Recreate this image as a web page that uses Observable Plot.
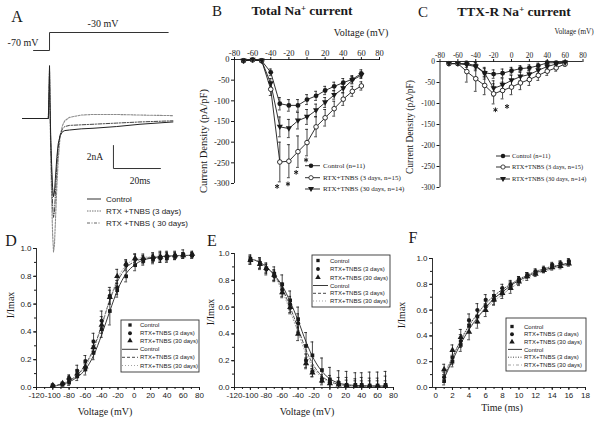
<!DOCTYPE html>
<html><head><meta charset="utf-8">
<script src="https://cdn.jsdelivr.net/npm/d3@7"></script>
<script src="https://cdn.jsdelivr.net/npm/@observablehq/plot@0.6"></script>
<style>
body{margin:0;background:#fff;}
#fig{position:relative;width:601px;height:426px;overflow:hidden;background:#fff;color:#1a1a1a;}
.lbl{position:absolute;white-space:nowrap;line-height:1;font-family:"Liberation Serif",serif;}
sup{font-size:65%;vertical-align:0.45em;line-height:0;}
</style></head><body><div id="fig"></div>
<script>
// ---------------- Panel A: current traces ----------------
const traceTime    = [0,11.0,11.3,11.5,11.7,12.0,12.4,12.8,13.2,13.6,14.0,14.6,15.2,16.0,17.0,18.0,20,25,30,40,50,64];
const traceControl = [0,0,2.5,4.6,1.5,-1.5,-4.0,-6.0,-6.8,-6.4,-5.2,-3.4,-2.2,-1.5,-1.15,-1.05,-1.0,-0.9,-0.85,-0.7,-0.5,-0.3];
const trace3d      = [0,0,2.0,4.2,1.0,-3.0,-7.0,-10.0,-11.6,-11.0,-9.0,-6.0,-3.6,-1.6,-0.6,-0.2,0.1,0.3,0.35,0.35,0.3,0.25];
const trace30d     = [0,0,2.2,4.4,1.2,-2.0,-5.0,-7.5,-8.6,-8.1,-6.6,-4.2,-2.5,-1.4,-0.9,-0.7,-0.6,-0.55,-0.5,-0.4,-0.3,-0.2];
const protocolTime    = [4.7,11.5,11.5,62];
const protocolVoltage = [-70,-70,-30,-30];
const scaleBarTime = 20, scaleBarCurrent = 2, scaleBarT0 = 38.7, scaleBarI0 = -4.35;

// ---------------- Panel B / C: I-V ----------------
const ivVoltage = [-70,-60,-50,-40,-30,-20,-10,0,10,20,30,40,50,60];
const totalControl    = [-3,-1,-3,-31,-107,-111,-111,-97,-88,-75,-65,-56,-48,-34];
const totalControlErr = [3,3,3,8,15,14,14,12,11,10,10,10,9,9];
const total3d         = [-3,-1,-3,-72,-248,-246,-223,-201,-163,-141,-119,-96,-77,-64];
const total3dErr      = [3,3,3,15,48,40,38,32,24,20,18,15,12,10];
const total30d        = [-3,-1,-3,-58,-163,-167,-148,-139,-123,-104,-86,-70,-50,-38];
const total30dErr     = [3,3,3,12,24,22,20,18,15,12,10,10,9,8];
const totalStarV = [-33,-21,-12,-1];
const totalStarY = [-307,-301,-273,-243];

const ttxControl    = [-5,-5,-5,-10,-27,-30,-28,-22,-17,-15,-10,-3,-3,-2];
const ttxControlErr = [3,3,3,8,10,10,10,8,7,7,6,4,3,2];
const ttx3d         = [-5,-5,-24,-41,-57,-77,-69,-61,-51,-43,-33,-23,-15,-6];
const ttx3dErr      = [4,4,25,30,22,24,20,18,16,14,12,10,8,5];
const ttx30d        = [-5,-5,-8,-12,-28,-64,-56,-45,-36,-31,-21,-12,-6,-3];
const ttx30dErr     = [3,3,6,10,14,18,15,12,10,9,8,6,4,3];
const ttxStarV = [-18,-5];
const ttxStarY = [-115,-107];

// ---------------- Panel D: activation ----------------
const actVoltage = [-100,-88,-80,-70,-60,-50,-40,-30,-21,-10,1,11,23,32,40,50,60,71];
const actControl = [0.01,0.02,0.035,0.08,0.13,0.25,0.42,0.55,0.70,0.80,0.88,0.91,0.92,0.93,0.93,0.94,0.95,0.95];
const actControlErr = [0.01,0.01,0.02,0.03,0.04,0.05,0.06,0.1,0.05,0.04,0.04,0.03,0.03,0.03,0.03,0.02,0.02,0.02];
const act3d = [0.015,0.025,0.06,0.12,0.19,0.33,0.48,0.66,0.72,0.88,0.92,0.92,0.93,0.94,0.94,0.95,0.96,0.95];
const act3dErr = [0.01,0.01,0.02,0.04,0.04,0.06,0.07,0.06,0.05,0.03,0.04,0.03,0.03,0.04,0.03,0.03,0.03,0.02];
const act30d = [0.015,0.03,0.07,0.10,0.15,0.29,0.45,0.65,0.80,0.89,0.93,0.93,0.94,0.94,0.95,0.95,0.95,0.96];
const act30dErr = [0.01,0.01,0.02,0.03,0.03,0.05,0.06,0.05,0.05,0.03,0.03,0.03,0.03,0.03,0.03,0.02,0.02,0.02];
const fitVoltage = [-100,-90,-80,-70,-60,-50,-40,-30,-20,-10,0,10,20,30,40,50,60,70];
const actFitControl = [0.01,0.02,0.04,0.075,0.13,0.23,0.38,0.55,0.71,0.82,0.88,0.915,0.93,0.94,0.945,0.948,0.95,0.95];
const actFit3d      = [0.012,0.025,0.05,0.09,0.165,0.28,0.45,0.63,0.77,0.86,0.905,0.925,0.935,0.94,0.945,0.948,0.95,0.95];
const actFit30d     = [0.01,0.02,0.045,0.085,0.15,0.27,0.44,0.63,0.79,0.88,0.92,0.935,0.94,0.945,0.948,0.95,0.95,0.95];

// ---------------- Panel E: inactivation ----------------
const inactVoltage = [-100,-88,-80,-70,-60,-50,-40,-30,-22,-10,0,11,21,32,40,50,60,70];
const inactControl = [0.96,0.93,0.89,0.85,0.77,0.65,0.51,0.31,0.24,0.13,0.06,0.035,0.02,0.02,0.02,0.015,0.015,0.02];
const inactControlErr = [0.03,0.04,0.04,0.05,0.07,0.07,0.09,0.1,0.1,0.09,0.09,0.09,0.1,0.09,0.09,0.1,0.1,0.1];
const inact3d = [0.95,0.92,0.88,0.83,0.73,0.62,0.48,0.20,0.12,0.065,0.04,0.025,0.015,0.015,0.015,0.01,0.01,0.015];
const inact3dErr = [0.03,0.04,0.04,0.04,0.05,0.06,0.07,0.05,0.04,0.03,0.05,0.05,0.06,0.05,0.06,0.06,0.06,0.07];
const inact30d = [0.95,0.92,0.89,0.84,0.71,0.60,0.40,0.18,0.11,0.05,0.03,0.02,0.015,0.01,0.01,0.01,0.01,0.01];
const inact30dErr = [0.03,0.03,0.03,0.04,0.04,0.05,0.05,0.04,0.03,0.03,0.03,0.03,0.04,0.04,0.04,0.04,0.04,0.04];
const inactFitControl = [0.96,0.94,0.9,0.84,0.76,0.64,0.5,0.34,0.21,0.12,0.065,0.035,0.022,0.016,0.013,0.012,0.011,0.01];
const inactFit3d      = [0.96,0.94,0.9,0.84,0.74,0.6,0.44,0.28,0.16,0.085,0.045,0.025,0.016,0.012,0.01,0.01,0.01,0.01];
const inactFit30d     = [0.96,0.94,0.9,0.83,0.72,0.57,0.41,0.25,0.14,0.075,0.04,0.022,0.014,0.011,0.01,0.01,0.01,0.01];

// ---------------- Panel F: recovery ----------------
const recTime = [1,2,3,4,5,6,7,8,9,10,11,12,13,14,15,16];
const recControl = [0.05,0.20,0.33,0.48,0.55,0.63,0.68,0.74,0.79,0.83,0.87,0.89,0.91,0.94,0.96,0.97];
const recControlErr = [0.03,0.04,0.05,0.05,0.05,0.04,0.04,0.03,0.03,0.03,0.02,0.02,0.02,0.02,0.02,0.02];
const rec3d = [0.08,0.23,0.36,0.52,0.60,0.68,0.71,0.77,0.80,0.84,0.87,0.90,0.92,0.95,0.96,0.98];
const rec3dErr = [0.04,0.05,0.05,0.05,0.05,0.04,0.04,0.03,0.03,0.02,0.02,0.02,0.02,0.02,0.02,0.02];
const rec30d = [0.14,0.29,0.39,0.43,0.51,0.60,0.68,0.73,0.77,0.82,0.86,0.88,0.91,0.93,0.94,0.96];
const rec30dErr = [0.04,0.04,0.06,0.06,0.05,0.05,0.04,0.04,0.04,0.03,0.03,0.02,0.02,0.02,0.02,0.02];
const recFitTime = [1,2,3,4,5,6,7,8,9,10,11,12,13,14,15,16];
const recFitControl = [0.07,0.21,0.34,0.45,0.54,0.62,0.69,0.74,0.79,0.83,0.86,0.89,0.91,0.93,0.95,0.96];
const recFit3d      = [0.08,0.23,0.37,0.48,0.57,0.65,0.71,0.76,0.80,0.84,0.87,0.90,0.92,0.94,0.95,0.97];
const recFit30d     = [0.10,0.24,0.36,0.46,0.54,0.61,0.67,0.72,0.77,0.81,0.85,0.88,0.90,0.92,0.94,0.95];

// ================= drawing =================
const W = 601, H = 426;
const SERIF = "'Liberation Serif', 'Times New Roman', serif";
const SANS = "'Liberation Sans', Arial, sans-serif";
const INK = "#1a1a1a";
const fig = document.getElementById("fig");

function frame(m, font, fs) {
  return {width: W, height: H, marginLeft: m[0], marginRight: W - m[1], marginTop: m[2], marginBottom: H - m[3],
    style: {position: "absolute", left: "0px", top: "0px", background: "transparent", overflow: "visible",
            fontFamily: font, fontSize: fs + "px", color: INK}};
}
function rows(xs, ys, es, s) { return xs.map((x, i) => ({x, y: ys[i], e: es ? es[i] : 0, s})); }
const triDown = {draw(ctx, size) { const h = Math.sqrt(size * 1.25); ctx.moveTo(-h * 0.6, -h * 0.42); ctx.lineTo(h * 0.6, -h * 0.42); ctx.lineTo(0, h * 0.62); ctx.closePath(); }};

function errMarks(data, cap, clampLow) {
  const lo = d => clampLow ? Math.max(0, d.y - d.e) : d.y - d.e;
  return [
    Plot.ruleX(data, {x: "x", y1: lo, y2: d => d.y + d.e, stroke: INK, strokeWidth: 0.8}),
    Plot.ruleY(data, {y: d => d.y + d.e, x1: d => d.x - cap, x2: d => d.x + cap, stroke: INK, strokeWidth: 0.8}),
    Plot.ruleY(data.filter(d => !clampLow || d.y - d.e > 0), {y: lo, x1: d => d.x - cap, x2: d => d.x + cap, stroke: INK, strokeWidth: 0.8})
  ];
}

function addLegend(svg, items, o) {
  const g = d3.select(svg).append("g").attr("font-family", o.font).attr("font-size", o.fs).attr("fill", INK)
    .attr("text-anchor", "start").style("font-family", o.font).style("font-size", o.fs + "px");
  if (o.box) g.append("rect").attr("x", o.box[0]).attr("y", o.box[1]).attr("width", o.box[2] - o.box[0])
      .attr("height", o.box[3] - o.box[1]).attr("fill", "white").attr("stroke", "#333").attr("stroke-width", 0.9);
  for (const it of items) {
    if (it.line) g.append("line").attr("x1", o.lx1).attr("x2", o.lx2).attr("y1", it.y).attr("y2", it.y)
      .attr("stroke", it.color || INK).attr("stroke-width", it.sw || 0.9).attr("stroke-dasharray", it.dash || null);
    if (it.sym) g.append("path").attr("d", d3.symbol(it.sym, it.size || 16)()).attr("transform", `translate(${o.mx},${it.y})`)
      .attr("fill", it.fill || INK).attr("stroke", it.stroke || "none").attr("stroke-width", 0.8);
    g.append("text").attr("x", o.tx).attr("y", it.y).attr("dy", "0.35em").text(it.label);
  }
}
function label(html, x, y, css = {}, rot = false) {
  const d = document.createElement("div");
  d.className = "lbl"; d.innerHTML = html;
  Object.assign(d.style, {left: x + "px", top: y + "px", transform: `translate(-50%,-50%)${rot ? " rotate(-90deg)" : ""}`}, css);
  fig.appendChild(d);
}

// ---------- Panel A ----------
const traceRows = [...rows(traceTime, traceControl, null, "c"), ...rows(traceTime, trace3d, null, "3"), ...rows(traceTime, trace30d, null, "30")];
const svgA = Plot.plot({...frame([22, 172.4, 60.5, 256], SERIF, 9), x: {domain: [0, 64], axis: null}, y: {domain: [-12, 5], axis: null},
  marks: [
    Plot.line(traceRows.filter(d => d.s === "3"), {x: "x", y: "y", stroke: "#8c8c8c", strokeWidth: 1.1, strokeDasharray: "2,1.3"}),
    Plot.line(traceRows.filter(d => d.s === "30"), {x: "x", y: "y", stroke: "#444", strokeWidth: 1, strokeDasharray: "4,1.5,1,1.5"}),
    Plot.line(traceRows.filter(d => d.s === "c"), {x: "x", y: "y", stroke: "#222", strokeWidth: 1}),
    Plot.line([{t: scaleBarT0, i: scaleBarI0 + scaleBarCurrent}, {t: scaleBarT0, i: scaleBarI0}, {t: scaleBarT0 + scaleBarTime, i: scaleBarI0}],
      {x: "t", y: "i", stroke: "#333", strokeWidth: 1})
  ]});
fig.appendChild(svgA);
addLegend(svgA, [
  {label: "Control", line: true, y: 199, color: "#444", sw: 1.1},
  {label: "RTX +TNBS (3 days)", line: true, y: 211, color: "#666", dash: "1.5,1"},
  {label: "RTX +TNBS ( 30 days)", line: true, y: 223, color: "#555", dash: "3,1.5,1,1.5"}
], {font: SANS, fs: 8, lx1: 87, lx2: 101, tx: 106});

const protoRows = protocolTime.map((t, i) => ({t, v: protocolVoltage[i]}));
fig.appendChild(Plot.plot({...frame([22, 172.4, 32, 50], SERIF, 9), x: {domain: [0, 64], axis: null}, y: {domain: [-70, -30], axis: null},
  marks: [Plot.line(protoRows, {x: "t", y: "v", stroke: "#333", strokeWidth: 1})]}));

// ---------- Panel B / C ----------
function ivPanel(m, data, stars, fs, capW, legendOpts) {
  const [c, t3, t30] = data;
  const all = [...c, ...t3, ...t30];
  const svg = Plot.plot({...frame(m, SERIF, fs), x: {domain: [-80, 80]}, y: {domain: [-300, 0]},
    marks: [
      Plot.ruleY([0], {stroke: INK, strokeWidth: 0.9}),
      Plot.ruleX([-80], {stroke: INK, strokeWidth: 0.9}),
      Plot.axisX({anchor: "top", ticks: d3.range(-80, 81, 20), tickSize: 3, tickPadding: 1, tickFormat: d => String(d), label: null, fontSize: fs, fontFamily: SERIF}),
      Plot.axisY({anchor: "left", ticks: d3.range(-300, 1, 50), tickSize: 3, tickPadding: 2, tickFormat: d => String(d), label: null, fontSize: fs, fontFamily: SERIF}),
      ...errMarks(all, capW, false),
      Plot.line(all, {x: "x", y: "y", z: "s", stroke: INK, strokeWidth: 0.9}),
      Plot.dot(c, {x: "x", y: "y", r: 2.4, symbol: "circle", fill: INK}),
      Plot.dot(t3, {x: "x", y: "y", r: 2.3, symbol: "circle", fill: "white", stroke: INK, strokeWidth: 0.9}),
      Plot.dot(t30, {x: "x", y: "y", r: 2.6, symbol: triDown, fill: INK}),
      Plot.dot(stars, {x: "x", y: "y", r: 2.2, symbol: "asterisk", stroke: INK, strokeWidth: 1})
    ]});
  fig.appendChild(svg);
  addLegend(svg, [
    {label: legendOpts.labels[0], line: true, y: legendOpts.ys[0], sym: d3.symbolCircle, size: 16},
    {label: legendOpts.labels[1], line: true, y: legendOpts.ys[1], sym: d3.symbolCircle, size: 14, fill: "white", stroke: INK},
    {label: legendOpts.labels[2], line: true, y: legendOpts.ys[2], sym: triDown, size: 20}
  ], legendOpts);
}
ivPanel([234, 379, 59, 183],
  [rows(ivVoltage, totalControl, totalControlErr, "c"), rows(ivVoltage, total3d, total3dErr, "3"), rows(ivVoltage, total30d, total30dErr, "30")],
  totalStarV.map((x, i) => ({x, y: totalStarY[i]})), 8.5, 1.6,
  {labels: ["Control (n=11)", "RTX+TNBS (3 days, n=15)", "RTX+TNBS (30 days, n=14)"], ys: [165.7, 177.7, 189],
   font: SERIF, fs: 7, lx1: 305, lx2: 320, mx: 311, tx: 323});
ivPanel([439.5, 582.5, 61, 187],
  [rows(ivVoltage, ttxControl, ttxControlErr, "c"), rows(ivVoltage, ttx3d, ttx3dErr, "3"), rows(ivVoltage, ttx30d, ttx30dErr, "30")],
  ttxStarV.map((x, i) => ({x, y: ttxStarY[i]})), 7.5, 1.6,
  {labels: ["Control (n=11)", "RTX+TNBS (3 days, n=15)", "RTX+TNBS (30 days, n=14)"], ys: [156, 167, 179],
   font: SERIF, fs: 6.4, lx1: 496, lx2: 510, mx: 503, tx: 512});

// ---------- Panels D / E / F ----------
function ratioPanel(m, xdom, xTicks, xMinor, series, fits, cap, clampLow, leg) {
  const [c, t3, t30] = series;
  const all = [...c, ...t3, ...t30];
  const svg = Plot.plot({...frame(m, SANS, 8), x: {domain: xdom}, y: {domain: [0, 1]},
    marks: [
      Plot.ruleY([0], {stroke: INK, strokeWidth: 0.9}),
      Plot.ruleX([xdom[0]], {stroke: INK, strokeWidth: 0.9}),
      Plot.axisX({ticks: xMinor, tickSize: 2, tickFormat: () => "", label: null}),
      Plot.axisX({ticks: xTicks, tickSize: 3, tickPadding: 2, tickFormat: d => String(d), label: null, fontSize: 8, fontFamily: SANS}),
      Plot.axisY({ticks: d3.range(0, 1.01, 0.1), tickSize: 2, tickFormat: () => "", label: null}),
      Plot.axisY({ticks: [0, 0.2, 0.4, 0.6, 0.8, 1.0], tickSize: 3, tickPadding: 2, tickFormat: d3.format(".1f"), label: null, fontSize: 8, fontFamily: SANS}),
      Plot.line(fits[0], {x: "x", y: "y", stroke: "#222", strokeWidth: 0.9, curve: "monotone-x"}),
      Plot.line(fits[1], {x: "x", y: "y", stroke: "#333", strokeWidth: 0.9, strokeDasharray: leg.dash3 || "3,2", curve: "monotone-x"}),
      Plot.line(fits[2], {x: "x", y: "y", stroke: "#999", strokeWidth: 0.9, strokeDasharray: leg.dash30 || "1,2", curve: "monotone-x"}),
      ...errMarks(all, cap, clampLow),
      Plot.dot(c, {x: "x", y: "y", r: 2.1, symbol: "square", fill: INK}),
      Plot.dot(t3, {x: "x", y: "y", r: 2.1, symbol: "circle", fill: INK}),
      Plot.dot(t30, {x: "x", y: "y", r: 2.3, symbol: "triangle", fill: INK})
    ]});
  fig.appendChild(svg);
  const ys = leg.ys;
  addLegend(svg, [
    {label: "Control", y: ys[0], sym: d3.symbolSquare, size: 11},
    {label: "RTX+TNBS (3 days)", y: ys[1], sym: d3.symbolCircle, size: 12},
    {label: "RTX+TNBS (30 days)", y: ys[2], sym: d3.symbolTriangle, size: 13},
    {label: "Control", line: true, y: ys[3], color: "#222"},
    {label: "RTX+TNBS (3 days)", line: true, y: ys[4], color: "#333", dash: leg.dash3 || "3,2"},
    {label: "RTX+TNBS (30 days)", line: true, y: ys[5], color: "#999", dash: leg.dash30 || "1,2"}
  ], leg);
}
const vTicks = d3.range(-120, 81, 20), vMinor = d3.range(-120, 81, 10);
ratioPanel([36, 199, 248, 387], [-120, 80], vTicks, vMinor,
  [rows(actVoltage, actControl, actControlErr, "c"), rows(actVoltage, act3d, act3dErr, "3"), rows(actVoltage, act30d, act30dErr, "30")],
  [rows(fitVoltage, actFitControl), rows(fitVoltage, actFit3d), rows(fitVoltage, actFit30d)], 1.8, false,
  {ys: [325, 333.3, 340.7, 349.3, 357.3, 365.5], box: [121, 320, 199, 372], font: SANS, fs: 6, lx1: 122, lx2: 138, mx: 130, tx: 140});
ratioPanel([234, 393, 253, 387], [-120, 80], vTicks, vMinor,
  [rows(inactVoltage, inactControl, inactControlErr, "c"), rows(inactVoltage, inact3d, inact3dErr, "3"), rows(inactVoltage, inact30d, inact30dErr, "30")],
  [rows(fitVoltage, inactFitControl), rows(fitVoltage, inactFit3d), rows(fitVoltage, inactFit30d)], 1.8, true,
  {ys: [260.5, 269, 277.5, 285.5, 293.3, 301], box: [312, 255, 390, 307], font: SANS, fs: 6, lx1: 313, lx2: 328, mx: 318, tx: 330});
ratioPanel([432, 585, 258, 387], [-0.4, 18], d3.range(0, 19, 2), d3.range(0, 19, 1),
  [rows(recTime, recControl, recControlErr, "c"), rows(recTime, rec3d, rec3dErr, "3"), rows(recTime, rec30d, rec30dErr, "30")],
  [rows(recFitTime, recFitControl), rows(recFitTime, recFit3d), rows(recFitTime, recFit30d)], 0.18, false,
  {ys: [326.5, 334.2, 341.8, 349.4, 357.2, 365], box: [506, 318, 586, 371], font: SANS, fs: 6, lx1: 508, lx2: 522, mx: 512, tx: 524,
   dash3: "1,1.5", dash30: "3,2,1,2"});

// ---------- text labels ----------
const big = {fontSize: "16px"};
label("A", 17, 17, big);
label("-30 mV", 103, 24, {fontSize: "10px"});
label("-70 mV", 23, 43, {fontSize: "10px"});
label("2nA", 95, 158, {fontSize: "9.5px"});
label("20ms", 140, 182, {fontSize: "9.5px"});
label("B", 217, 11, {fontSize: "15px"});
label("Total Na<sup>+</sup> current", 302, 11, {fontSize: "13.5px", fontWeight: "bold"});
label("Voltage (mV)", 361, 33, {fontSize: "10px"});
label("Current Density (pA/pF)", 204, 141, {fontSize: "10.5px"}, true);
label("C", 423, 12, {fontSize: "15px"});
label("TTX-R Na<sup>+</sup> current", 514, 12, {fontSize: "13.5px", fontWeight: "bold"});
label("Voltage (mV)", 574, 33, {fontSize: "7.2px"});
label("Current Density (pA/pF)", 411, 127, {fontSize: "9.5px"}, true);
label("D", 11, 241, big);
label("E", 212, 241, big);
label("F", 413, 238, big);
label("I/Imax", 11, 305, {fontSize: "10px"}, true);
label("I/Imax", 211, 312, {fontSize: "10px"}, true);
label("I/Imax", 402, 315, {fontSize: "10px"}, true);
label("Voltage (mV)", 105, 412, {fontSize: "10px"});
label("Voltage (mV)", 307, 412, {fontSize: "10px"});
label("Time (ms)", 502, 408, {fontSize: "10px"});
</script></body></html>
